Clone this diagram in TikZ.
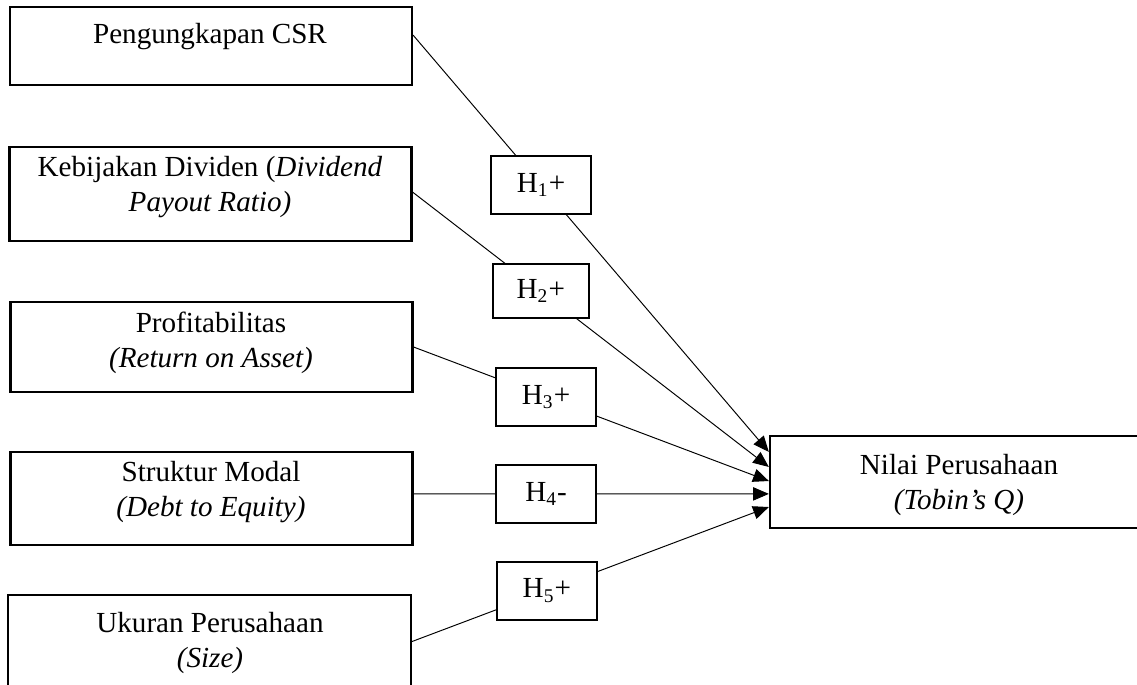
\documentclass[tikz,border=0pt]{standalone}
\usepackage{fontspec}
\setmainfont{Liberation Serif}
\usetikzlibrary{arrows.meta}

\begin{document}
\begin{tikzpicture}[x=0.412pt,y=-0.412pt,
  every node/.style={font=\fontsize{12}{14.4}\selectfont},
  var/.style={draw,line width=0.9pt,minimum width=165.6pt,inner sep=0pt},
  txt/.style={align=center,anchor=base,inner sep=0pt},
  hyp/.style={draw,fill=white,line width=0.8pt,minimum width=41pt,minimum height=24pt,inner sep=0pt},
  link/.style={line width=0.4pt,-{Triangle[length=6.5pt,width=5.5pt]}}]
\useasboundingbox (0,0) rectangle (1137,684);
\clip (0,0) rectangle (1137,684);

\node[var,minimum height=32.1pt] (csr) at (211,46) {}; % CSR
\node[txt] (csrtxt) at (210,43) {Pengungkapan CSR};
\node[var,minimum height=38.7pt] (dpr) at (210.5,194) {}; % dividend
\node[txt] (dprtxt) at (210,211) {Kebijakan Dividen (\textit{Dividend}\\\textit{Payout Ratio)}};
\node[var,minimum height=37.1pt] (roa) at (211.5,347) {}; % profitability
\node[txt] (roatxt) at (211,367) {Profitabilitas\\\textit{(Return on Asset)}};
\node[var,minimum height=38.3pt] (der) at (211.5,498.5) {}; % capital structure
\node[txt] (dertxt) at (211,516) {Struktur Modal\\\textit{(Debt to Equity)}};
\node[var,minimum height=38.3pt,minimum width=166pt] (size) at (209.5,641.5) {}; % size
\node[txt] (sizetxt) at (210,667) {Ukuran Perusahaan\\\textit{(Size)}};
\node[var,minimum width=156.6pt,minimum height=37.9pt] (tq) at (960,482) {}; % firm value
\node[txt] (tqtxt) at (959,509) {Nilai Perusahaan\\\textit{(Tobin's Q)}};

% hypotheses
\draw[link] ([yshift=4.5pt]csr.east) -- node[hyp,pos=0.36] (h1) {H\textsubscript{1}+} ([yshift=12.4pt]tq.west);
\draw[link] ([yshift=0.8pt]dpr.east) -- node[hyp,pos=0.36,minimum height=22pt,minimum width=39.5pt] (h2) {H\textsubscript{2}+} ([yshift=6.2pt]tq.west);
\draw[link] (roa.east) -- node[hyp,pos=0.373] (h3) {H\textsubscript{3}+} ([yshift=0.4pt]tq.west);
\draw[link] ([yshift=1.9pt]der.east) -- node[hyp,pos=0.373] (h4) {H\textsubscript{4}-} ([yshift=-4.9pt]tq.west);
\draw[link] (size.east) -- node[hyp,pos=0.378] (h5) {H\textsubscript{5}+} ([yshift=-10.3pt]tq.west);

\end{tikzpicture}
\end{document}
